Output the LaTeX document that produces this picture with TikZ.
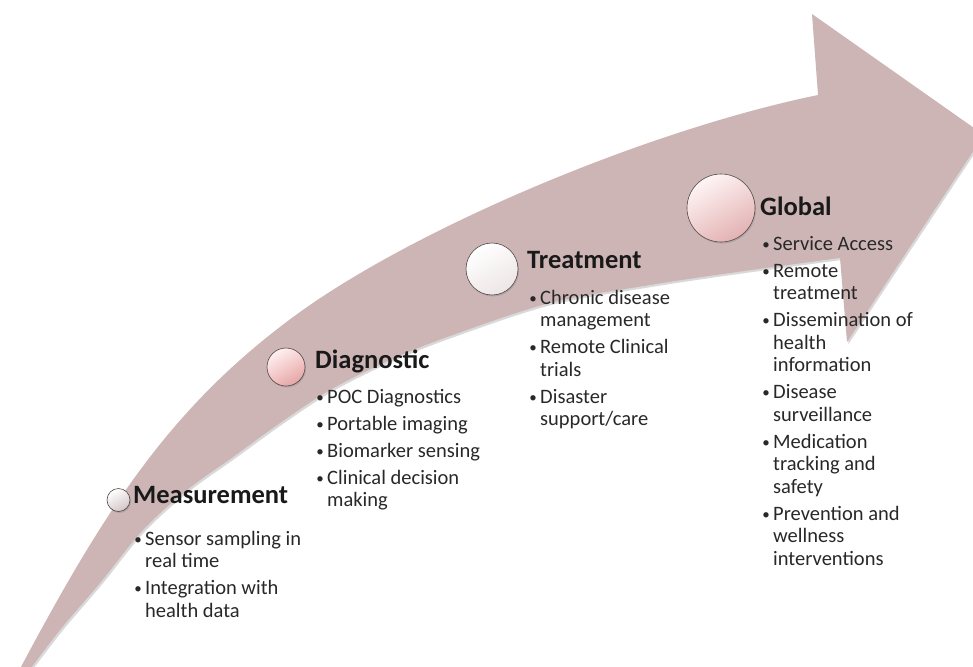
\documentclass[tikz,border=0pt]{standalone}
\usepackage{fontspec}
\setmainfont{Carlito}
\usetikzlibrary{shadows}
\definecolor{arrowfill}{RGB}{205,181,182}
\definecolor{headcol}{RGB}{25,25,25}
\definecolor{bodycol}{RGB}{40,40,40}
\newcommand\smallbullet{\makebox[10pt][c]{\raisebox{0.6pt}{\fontsize{15}{15}\selectfont\textbullet}}}
\newcommand\bl[1]{\hbox{\makebox[12pt][l]{\smallbullet}#1}}
\newcommand\cl[1]{\hbox{\hspace*{12pt}#1}}
\newcommand\igap{\vskip4.5pt}
\tikzset{
  heading/.style={anchor=base west, inner sep=0pt, text=headcol,
    font=\fontsize{26.5}{30}\selectfont\bfseries},
  items/.style={anchor=base west, inner sep=0pt, text=bodycol,
    font=\fontsize{20.5}{22.5}\selectfont},
  stage/.style={circle, inner sep=0pt, draw=black!60!arrowfill, line width=0.6pt,
    drop shadow={opacity=0.35, shadow xshift=1pt, shadow yshift=-1.5pt}},
}
\begin{document}
\begin{tikzpicture}[x=1pt,y=-1pt]
\useasboundingbox (0,0) rectangle (973,666);
% big curved arrow
\fill[arrowfill, drop shadow={opacity=0.3, shadow xshift=1.5pt, shadow yshift=-2pt}]
  (14,680) .. controls (104,510) and (170,406) .. (300,312)
  .. controls (420,226) and (648,130) .. (818,95)
  -- (812,14) -- (984,135) -- (847,342) -- (840,258)
  -- plot[smooth, tension=0.55] coordinates {(840,258) (737,272) (650,285) (550,303) (450,336) (390,360) (330,390) (280,423) (233,457) (187,490) (143,530) (100,583) (60,630) (22,680)}
  -- cycle;

% stage circles
\node[stage, minimum size=23pt, top color=white, bottom color=black!12!arrowfill!60, shading angle=30] (c1) at (118.5,500) {};
\node[stage, minimum size=38pt, top color=red!6, bottom color=red!30!arrowfill!70, shading angle=30] (c2) at (286,367) {};
\node[stage, minimum size=52pt, top color=white, bottom color=arrowfill!35, shading angle=30] (c3) at (492,269) {};
\node[stage, minimum size=68pt, top color=red!4, bottom color=red!20!arrowfill!70, shading angle=30] (c4) at (721,208) {};

% headings
\node[heading] (h1) at (133,503) {Measurement};
\node[heading] (h2) at (315,368) {Diagnostic};
\node[heading] (h3) at (527,268) {Treatment};
\node[heading] (h4) at (760,215) {Global};

% bullet lists
\node[items] (l1) at (133,545) {\vtop{\bl{Sensor sampling in}\cl{real time}\igap
  \bl{Integration with}\cl{health data}}};
\node[items] (l2) at (315,403) {\vtop{\bl{POC Diagnostics}\igap\bl{Portable imaging}\igap
  \bl{Biomarker sensing}\igap\bl{Clinical decision}\cl{making}}};
\node[items] (l3) at (528,304) {\vtop{\bl{Chronic disease}\cl{management}\igap
  \bl{Remote Clinical}\cl{trials}\igap\bl{Disaster}\cl{support/care}}};
\node[items] (l4) at (761,250) {\vtop{\bl{Service Access}\igap\bl{Remote}\cl{treatment}\igap
  \bl{Dissemination of}\cl{health}\cl{information}\igap
  \bl{Disease}\cl{surveillance}\igap
  \bl{Medication}\cl{tracking and}\cl{safety}\igap
  \bl{Prevention and}\cl{wellness}\cl{interventions}}};
\end{tikzpicture}
\end{document}
